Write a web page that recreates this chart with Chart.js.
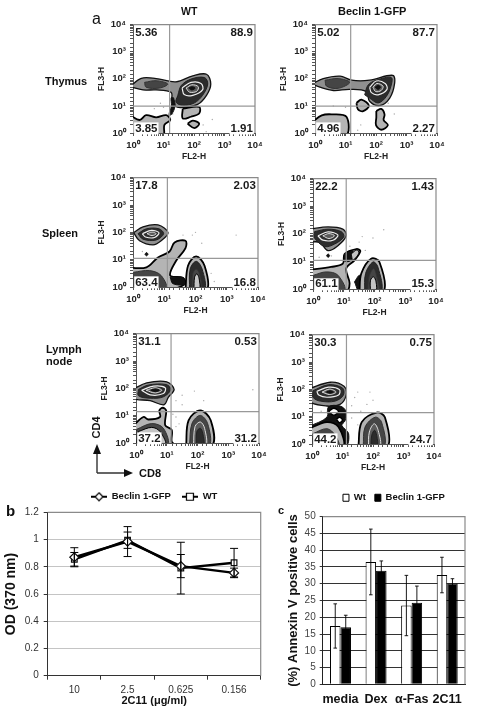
<!DOCTYPE html>
<html>
<head>
<meta charset="utf-8">
<title>Beclin 1-GFP</title>
<script src="https://cdn.jsdelivr.net/npm/chart.js@4/dist/chart.umd.js"></script>
<style>
  body { margin: 0; background: #fff; }
  #page { position: relative; width: 477px; height: 715px; overflow: hidden; font-family: "Liberation Sans", Arial, sans-serif; color: #111; filter: blur(0.45px); }
  #page canvas { position: absolute; }
  .txt { position: absolute; font-weight: bold; white-space: nowrap; line-height: 1; }
  svg { position: absolute; left: 0; top: 0; }
</style>
</head>
<body>
<div id="page">
  <div class="txt" style="left:92px;top:11px;font-size:16px;font-weight:normal">a</div>
  <div class="txt" style="left:6px;top:503px;font-size:15px">b</div>
  <div class="txt" style="left:278px;top:505px;font-size:11px">c</div>
  <div class="txt" style="left:181px;top:6px;font-size:10.5px">WT</div>
  <div class="txt" style="left:338px;top:6px;font-size:11px">Beclin 1-GFP</div>
  <div class="txt" style="left:45px;top:76px;font-size:11px">Thymus</div>
  <div class="txt" style="left:42px;top:228px;font-size:11px">Spleen</div>
  <div class="txt" style="left:46px;top:344px;font-size:11px">Lymph</div>
  <div class="txt" style="left:46px;top:356px;font-size:11px">node</div>
  <div class="txt" style="left:139px;top:468px;font-size:11px">CD8</div>
  <div class="txt" style="left:85px;top:422px;font-size:11px;transform:rotate(-90deg)">CD4</div>
  <svg width="477" height="715">
    <path d="M97 473V452M97 473H128" fill="none" stroke="#333" stroke-width="1.4"/>
    <path d="M97 444L93 454H101ZM133 473L124 469V477Z" fill="#111"/>
  </svg>
</div>
<script>
// all flow cytometry shapes are in decades (log10 of FL2-H, log10 of FL3-H)
const decadeLabels = {1: '10⁰', 10: '10¹', 100: '10²', 1000: '10³', 10000: '10⁴'}

const thymusWtPercents = ['5.36', '88.9', '3.85', '1.91']
const thymusWtGate = [1.2, 0.99]
const thymusWtDots = [[0.7,0.9],[1.0,0.95],[2.3,0.3],[2.6,0.5],[2.4,0.05],[1.3,0.7],[0.9,1.1]]
const thymusWtContours = [
  [[-0.1,1.71],[0.27,2.02],[0.76,2.01],[1.41,1.89],[1.96,2.11],[2.41,2.17],[2.55,1.81],[2.41,1.39],[2.12,1.06],[1.58,0.94],[1.38,1.0],[1.28,1.25],[1.25,1.5],[0.76,1.59],[0.33,1.59]],
  [[0.38,1.87],[0.76,1.93],[1.14,1.81],[0.87,1.66],[0.43,1.69]],
  [[1.47,1.39],[1.58,1.75],[1.9,1.99],[2.34,2.05],[2.45,1.81],[2.28,1.39],[2.01,1.11],[1.63,1.02],[1.41,1.14]],
  [[1.61,1.66],[1.9,1.87],[2.23,1.83],[2.28,1.59],[1.96,1.39],[1.68,1.42]],
  [[1.74,1.66],[1.93,1.78],[2.14,1.71],[2.09,1.54],[1.85,1.51]],
  [[1.83,1.66],[1.93,1.71],[2.04,1.66],[1.93,1.59]],
  [[1.33,1.3],[1.38,1.0],[1.26,0.68],[1.18,0.68],[1.26,1.0],[1.25,1.3]],
  [[-0.1,0.66],[0.22,0.48],[0.43,0.66],[0.76,0.58],[1.09,0.66],[1.22,0.48],[1.03,0.3],[0.98,-0.1],[-0.1,-0.1]],
  [[1.63,0.9],[2.17,0.96],[2.17,0.72],[1.9,0.6],[1.63,0.54]],
  [[1.79,0.34],[1.96,0.46],[2.17,0.34],[2.01,0.18]]
]
const thymusWtShades = ['outline','dark','darker','ring','soft','ink','ink','edge','edge','edge']

const thymusBeclinPercents = ['5.02', '87.7', '4.96', '2.27']
const thymusBeclinGate = [1.17, 0.99]
const thymusBeclinDots = [[0.6,1.0],[0.9,0.3],[1.5,0.3],[1.4,0.1],[2.6,0.7],[2.4,1.1],[1.0,0.95]]
const thymusBeclinContours = [
  [[-0.1,1.81],[0.27,2.01],[0.82,2.10],[1.2,1.95],[1.79,1.95],[2.55,2.13],[2.61,1.83],[2.45,1.29],[2.12,1.01],[1.79,1.17],[1.68,1.53],[1.14,1.61],[0.6,1.57],[0.16,1.69]],
  [[0.33,1.95],[0.76,2.01],[1.14,1.87],[0.76,1.65],[0.38,1.73]],
  [[1.63,1.41],[1.74,1.77],[2.01,1.95],[2.5,2.05],[2.5,1.77],[2.34,1.35],[2.07,1.11],[1.79,1.29]],
  [[1.79,1.69],[2.01,1.92],[2.3,1.83],[2.36,1.61],[2.07,1.41],[1.85,1.49]],
  [[1.9,1.69],[2.03,1.83],[2.23,1.73],[2.17,1.57],[1.99,1.53]],
  [[1.97,1.69],[2.07,1.76],[2.15,1.69],[2.07,1.61]],
  [[1.36,1.11],[1.52,1.23],[1.77,1.01],[1.58,0.81],[1.41,0.87]],
  [[2.01,0.81],[2.17,0.89],[2.28,0.69],[2.25,0.48],[2.39,0.29],[2.17,0.12],[2.0,0.29],[2.01,0.57]],
  [[-0.1,0.39],[0.22,0.65],[0.54,0.69],[1.03,0.6],[1.01,-0.1],[-0.1,-0.1]]
]
const thymusBeclinShades = ['outline','dark','darker','ring','soft','ink','edge','edge','edge']

const spleenWtPercents = ['17.8', '2.03', '63.4', '16.8']
const spleenWtGate = [1.1, 1.05]
const spleenWtDots = [[0.3,1.3],[1.4,1.6],[1.9,1.9],[2.0,2.0],[2.2,1.6],[1.6,1.9],[2.5,0.5],[2.6,0.2],[3.3,1.9]]
const spleenWtContours = [
  [[0.02,1.99],[0.32,2.2],[0.8,2.27],[1.12,1.99],[0.9,1.69],[0.64,1.54],[0.21,1.69]],
  [[0.16,1.95],[0.43,2.13],[0.83,2.13],[0.98,1.95],[0.74,1.72],[0.32,1.75]],
  [[0.3,1.95],[0.59,2.07],[0.83,1.99],[0.69,1.81],[0.4,1.83]],
  [[0.45,1.95],[0.61,2.01],[0.74,1.95],[0.61,1.88]],
  [[-0.1,0.7],[0.43,0.72],[0.8,1.08],[1.17,1.3],[1.33,1.63],[1.68,1.69],[1.68,1.42],[1.38,0.96],[1.19,0.42],[1.6,0.34],[1.65,0.1],[1.12,-0.1],[-0.1,-0.1]],
  [[0.02,0.54],[0.53,0.6],[0.9,0.42],[1.06,-0.1],[-0.1,-0.1]],
  [[1.19,0.36],[1.6,0.34],[1.68,0.1],[1.28,0.12]],
  [[1.68,-0.1],[1.76,0.78],[2.02,1.12],[2.29,0.78],[2.36,-0.1]],
  [[1.81,-0.1],[1.83,0.66],[2.02,0.94],[2.21,0.66],[2.29,-0.1]],
  [[1.89,-0.1],[1.91,0.48],[2.02,0.66],[2.13,0.48],[2.18,-0.1]],
  [[1.95,-0.1],[1.97,0.36],[2.04,0.48],[2.11,0.34],[2.13,-0.1]],
  [[0.38,1.2],[0.43,1.26],[0.48,1.2],[0.43,1.14]]
]
const spleenWtShades = ['outline','darker','ring','soft','edge','dark','ink','edge','darker','dark','pale','ink']

const spleenBeclinPercents = ['22.2', '1.43', '61.1', '15.3']
const spleenBeclinGate = [1.08, 1.04]
const spleenBeclinDots = [[0.2,1.15],[0.6,1.2],[1.5,1.7],[1.6,1.9],[1.95,1.85],[2.3,2.15],[1.7,1.4],[1.2,1.55]]
const spleenBeclinContours = [
  [[-0.1,2.17],[0.49,2.25],[0.97,2.17],[1.08,1.93],[0.81,1.57],[0.49,1.39],[0.22,1.69],[-0.1,1.75]],
  [[0.05,2.08],[0.49,2.17],[0.92,2.08],[1,1.89],[0.7,1.63],[0.38,1.54],[0.05,1.85]],
  [[0.16,1.93],[0.49,2.07],[0.81,1.96],[0.65,1.77],[0.32,1.77]],
  [[0.32,1.93],[0.52,2.01],[0.7,1.93],[0.52,1.83]],
  [[-0.1,0.7],[0.59,0.8],[0.97,0.92],[1.03,1.27],[1.41,1.45],[1.54,1.37],[1.35,1.04],[1.08,0.74],[1.19,0.2],[1.06,-0.1],[-0.1,-0.1]],
  [[1.03,1.27],[1.3,1.37],[1.24,1.04],[1.03,1.01]],
  [[1.24,1.27],[1.43,1.42],[1.49,1.3],[1.3,1.06]],
  [[0.02,0.5],[0.43,0.62],[0.81,0.5],[1.03,-0.1],[0.02,-0.1]],
  [[1.35,0.26],[1.51,0.5],[1.57,0.26],[1.49,-0.1]],
  [[1.51,-0.1],[1.57,0.56],[1.89,1.1],[2.16,0.98],[2.29,-0.1]],
  [[1.68,-0.1],[1.71,0.56],[1.95,0.98],[2.11,0.8],[2.22,-0.1]],
  [[1.78,-0.1],[1.82,0.44],[1.97,0.74],[2.08,0.44],[2.14,-0.1]],
  [[1.87,-0.1],[1.87,0.32],[1.97,0.44],[2.05,0.26],[2.05,-0.1]],
  [[0.44,1.21],[0.49,1.27],[0.54,1.21],[0.49,1.15]]
]
const spleenBeclinShades = ['outline','darker','ring','soft','edge','ink','pale','dark','ink','edge','darker','dark','pale','ink']

const lymphWtPercents = ['31.1', '0.53', '37.2', '31.2']
const lymphWtGate = [1.14, 1.15]
const lymphWtDots = [[1.3,1.55],[1.5,1.75],[1.9,1.9],[1.5,1.4],[1.3,0.95],[1.4,0.7],[2.2,1.55],[3.8,1.95],[1.2,1.05],[1.3,0.6]]
const lymphWtContours = [
  [[-0.1,1.96],[0.35,2.2],[1,2.24],[1.24,1.96],[1.05,1.67],[0.91,1.4],[0.46,1.55],[-0.1,1.64]],
  [[0.08,1.96],[0.4,2.12],[0.98,2.14],[1.13,1.96],[0.89,1.69],[0.46,1.64],[0.08,1.73]],
  [[0.18,1.93],[0.57,2.08],[0.95,2.02],[0.89,1.81],[0.46,1.76]],
  [[0.33,1.93],[0.62,2.02],[0.84,1.93],[0.62,1.83]],
  [[0.48,1.93],[0.63,1.98],[0.76,1.93],[0.63,1.88]],
  [[-0.1,0.62],[0.24,0.95],[0.4,0.86],[0.78,0.95],[0.76,1.19],[0.87,1.29],[0.98,1.19],[0.95,0.65],[1.16,0.48],[1.16,0.06],[1.27,-0.1],[-0.1,-0.1]],
  [[0.02,0.5],[0.51,0.71],[0.89,0.54],[1.02,-0.1],[0.02,-0.1]],
  [[0.08,0.42],[0.51,0.57],[0.78,0.42],[0.95,-0.1],[0.08,-0.1]],
  [[1.63,-0.1],[1.71,0.83],[2.09,1.19],[2.43,0.83],[2.47,-0.1]],
  [[1.74,-0.1],[1.82,0.71],[2.09,1.01],[2.33,0.71],[2.38,-0.1]],
  [[1.87,-0.1],[1.92,0.6],[2.09,0.77],[2.23,0.54],[2.27,-0.1]],
  [[1.96,-0.1],[1.98,0.42],[2.09,0.54],[2.17,0.36],[2.2,-0.1]]
]
const lymphWtShades = ['outline','darker','ring','soft','ink','edge','dark','pale','edge','dark','soft','darker']

const lymphBeclinPercents = ['30.3', '0.75', '44.2', '24.7']
const lymphBeclinGate = [1.13, 1.15]
const lymphBeclinDots = [[1.5,1.9],[1.4,1.7],[1.3,1.4],[1.9,1.9],[2.0,1.6],[1.8,1.45],[0.3,1.2],[0.5,1.2],[1.3,0.95],[1.6,1.2],[1.5,0.7]]
const lymphBeclinContours = [
  [[-0.1,2.02],[0.6,2.26],[1.05,2.11],[1.12,1.79],[0.92,1.45],[0.49,1.39],[-0.1,1.57]],
  [[0.03,1.95],[0.54,2.17],[1,2.05],[1.03,1.79],[0.76,1.57],[0.27,1.57],[0.03,1.71]],
  [[0.16,1.93],[0.54,2.08],[0.9,1.99],[0.87,1.79],[0.49,1.71],[0.22,1.79]],
  [[0.33,1.9],[0.58,2.01],[0.79,1.9],[0.58,1.81]],
  [[0.47,1.9],[0.59,1.95],[0.71,1.9],[0.59,1.86]],
  [[-0.1,0.64],[0.49,0.98],[0.54,1.36],[0.92,1.39],[1.12,1.19],[1.09,0.86],[0.98,0.68],[1.2,0.38],[1.09,-0.1],[-0.1,-0.1]],
  [[0.54,1.19],[0.71,1.31],[0.87,1.19],[0.71,1.05]],
  [[0.8,0.9],[0.9,0.98],[1.0,0.88],[0.9,0.78]],
  [[-0.1,0.56],[0.49,0.8],[0.87,0.62],[1.01,-0.1],[-0.1,-0.1]],
  [[0.03,0.38],[0.49,0.56],[0.76,0.32],[0.87,-0.1],[0.03,-0.1]],
  [[1.52,-0.1],[1.63,0.8],[2.12,1.15],[2.39,0.98],[2.47,-0.1]],
  [[1.68,-0.1],[1.74,0.62],[2.07,0.98],[2.28,0.8],[2.36,-0.1]],
  [[1.85,-0.1],[1.88,0.44],[2.04,0.74],[2.17,0.5],[2.23,-0.1]],
  [[1.93,-0.1],[1.96,0.32],[2.05,0.5],[2.12,0.32],[2.14,-0.1]]
]
const lymphBeclinShades = ['outline','darker','ring','soft','ink','ink','hole','hole','edge','dark','edge','dark','soft','darker']

// panel b
const doseLabels = ['10', '2.5', '0.625', '0.156']
const odBeclin = [0.87, 0.985, 0.805, 0.755]
const odBeclinError = [0.07, 0.11, 0.085, 0.035]
const odWt = [0.855, 0.995, 0.79, 0.83]
const odWtError = [0.05, 0.06, 0.19, 0.105]

// panel c
const treatmentLabels = ['media', 'Dex', 'α-Fas', '2C11']
const annexinWt = [17.4, 36.5, 23.5, 32.6]
const annexinWtError = [6.6, 9.8, 9, 5.3]
const annexinBeclin = [17, 33.9, 24.3, 30.1]
const annexinBeclinError = [3.6, 2.9, 5, 1.4]

const shades = {
  outline: {fill: '#8f8f8f', line: '#111', width: 1.3},
  edge:    {fill: '#b4b4b4', line: '#000', width: 1.8},
  pale:    {fill: '#c4c4c4', line: '#000', width: 1},
  soft:    {fill: '#5a5a5a', line: '#ddd', width: 1},
  dark:    {fill: '#454545', line: '#333', width: 1},
  darker:  {fill: '#2c2c2c', line: '#222', width: 1},
  ring:    {fill: '#2e2e2e', line: '#eee', width: 1.2},
  ink:     {fill: '#111', line: '#111', width: 1},
  hole:    {fill: '#fff', line: '#000', width: 1.5}
}

const toValue = p => ({x: 10 ** p[0], y: 10 ** p[1]})

// white backed percentages in the four quadrants
const percentLabels = {
  id: 'percentLabels',
  afterDatasetsDraw(chart, args, opts) {
    const {ctx, scales: {x, y}} = chart
    const places = [[0.07, 3.7, 'left'], [3.93, 3.7, 'right'], [0.07, 0.17, 'left'], [3.93, 0.17, 'right']]
    ctx.save()
    ctx.font = 'bold 11.5px "Liberation Sans"'
    ctx.textBaseline = 'middle'
    opts.values.forEach((text, i) => {
      const [px, py, align] = places[i]
      const left = x.getPixelForValue(10 ** px)
      const top = y.getPixelForValue(10 ** py)
      const w = ctx.measureText(text).width
      ctx.fillStyle = '#fff'
      ctx.fillRect(align == 'left' ? left - 1 : left - w - 1, top - 6, w + 2, 12)
      ctx.fillStyle = '#1a1a1a'
      ctx.textAlign = align
      ctx.fillText(text, left, top)
    })
    ctx.restore()
  }
}

const plotBox = {
  id: 'plotBox',
  afterDatasetsDraw(chart) {
    const {ctx, chartArea: a} = chart
    ctx.save()
    ctx.strokeStyle = '#8a8a8a'
    ctx.lineWidth = 1.2
    ctx.beginPath()
    ctx.moveTo(a.left, a.top)
    ctx.lineTo(a.right, a.top)
    ctx.lineTo(a.right, a.bottom)
    ctx.stroke()
    ctx.restore()
  }
}

const errorBars = {
  id: 'errorBars',
  afterDatasetsDraw(chart, args, opts) {
    const {ctx, scales: {y}} = chart
    ctx.save()
    ctx.strokeStyle = '#000'
    ctx.lineWidth = opts.width
    chart.data.datasets.forEach((ds, i) => {
      chart.getDatasetMeta(i).data.forEach((el, j) => {
        const hi = y.getPixelForValue(ds.data[j] + ds.errors[j])
        const lo = y.getPixelForValue(ds.data[j] - ds.errors[j])
        ctx.beginPath()
        ctx.moveTo(el.x, hi)
        ctx.lineTo(el.x, lo)
        ctx.moveTo(el.x - opts.cap, hi)
        ctx.lineTo(el.x + opts.cap, hi)
        ctx.moveTo(el.x - opts.cap, lo)
        ctx.lineTo(el.x + opts.cap, lo)
        ctx.stroke()
      })
    })
    ctx.restore()
  }
}

// keeps the plot top where it belongs whatever the legend wants
const legendHeight = {
  id: 'legendHeight',
  beforeLayout(chart, args, opts) {
    const legend = chart.legend
    const fit = Object.getPrototypeOf(legend).fit
    legend.fit = function () {
      fit.call(this)
      this.height = opts.height
    }
  }
}

function place(left, top, width, height) {
  const c = document.createElement('canvas')
  c.width = width
  c.height = height
  c.style.left = left + 'px'
  c.style.top = top + 'px'
  document.getElementById('page').appendChild(c)
  return c
}

function flowAxis(title, size, titlePad) {
  return {
    type: 'logarithmic',
    min: 1,
    max: 10000,
    afterFit: s => { if (s.isHorizontal()) s.height = size; else s.width = size },
    border: {color: '#555'},
    grid: {drawOnChartArea: false, tickLength: 3, tickColor: '#555'},
    ticks: {
      autoSkip: false, maxRotation: 0, padding: 4, color: '#222',
      font: {family: 'Liberation Sans', weight: 'bold', size: 9.5},
      callback: v => decadeLabels[v] || ''
    },
    title: {display: true, text: title, color: '#222', padding: titlePad, font: {family: 'Liberation Sans', weight: 'bold', size: 8.5}}
  }
}

function flowPlot(left, top, right, bottom, percents, gate, dots, contours, names) {
  const layers = contours.map((c, i) => {
    const s = shades[names[i]]
    return {
      data: c.concat([c[0]]).map(toValue),
      showLine: true, tension: 0.35, fill: 'shape', pointRadius: 0,
      backgroundColor: s.fill, borderColor: s.line, borderWidth: s.width,
      order: 100 - i
    }
  })
  const gateLine = pts => ({data: pts.map(toValue), showLine: true, pointRadius: 0, borderColor: '#999', borderWidth: 1.2, order: 0})
  layers.push(gateLine([[gate[0], 0], [gate[0], 4]]))
  layers.push(gateLine([[0, gate[1]], [4, gate[1]]]))
  layers.push({data: dots.map(toValue), pointRadius: 0.7, pointBackgroundColor: '#aaa', pointBorderWidth: 0, order: 200})
  const yWidth = 37, xHeight = 30, padTop = 8, padRight = 16
  new Chart(place(left - yWidth, top - padTop, right - left + yWidth + padRight, bottom - top + padTop + xHeight), {
    type: 'scatter',
    data: {datasets: layers},
    plugins: [plotBox, percentLabels],
    options: {
      responsive: false,
      animation: false,
      layout: {autoPadding: false, padding: {top: padTop, right: padRight, left: 0, bottom: 0}},
      plugins: {legend: {display: false}, tooltip: {enabled: false}, percentLabels: {values: percents}},
      scales: {
        x: flowAxis('FL2-H', xHeight, {top: 0, bottom: 1}),
        y: flowAxis('FL3-H', yWidth, {top: 1, bottom: 0})
      }
    }
  })
}

flowPlot(133.3, 23, 256, 133.5, thymusWtPercents, thymusWtGate, thymusWtDots, thymusWtContours, thymusWtShades)
flowPlot(315, 23.3, 437.3, 134, thymusBeclinPercents, thymusBeclinGate, thymusBeclinDots, thymusBeclinContours, thymusBeclinShades)
flowPlot(133.3, 175.7, 258.3, 286.7, spleenWtPercents, spleenWtGate, spleenWtDots, spleenWtContours, spleenWtShades)
flowPlot(313, 176.7, 436.7, 289, spleenBeclinPercents, spleenBeclinGate, spleenBeclinDots, spleenBeclinContours, spleenBeclinShades)
flowPlot(136, 331.7, 259, 443.3, lymphWtPercents, lymphWtGate, lymphWtDots, lymphWtContours, lymphWtShades)
flowPlot(311.7, 332.7, 434, 444, lymphBeclinPercents, lymphBeclinGate, lymphBeclinDots, lymphBeclinContours, lymphBeclinShades)

// small line + marker pictures for the legend of panel b
function legendMark(style) {
  const c = document.createElement('canvas')
  c.width = 16
  c.height = 10
  const g = c.getContext('2d')
  g.lineWidth = 2
  g.beginPath()
  g.moveTo(0, 5)
  g.lineTo(16, 5)
  g.stroke()
  g.fillStyle = '#fff'
  g.lineWidth = 1.2
  g.beginPath()
  if (style == 'rectRot') { g.moveTo(8, 1); g.lineTo(12, 5); g.lineTo(8, 9); g.lineTo(4, 5) }
  else g.rect(4.5, 1.5, 7, 7)
  g.closePath()
  g.fill()
  g.stroke()
  return c
}

const labelFont = {family: 'Liberation Sans'}

new Chart(place(0, 481, 270, 234), {
  type: 'line',
  data: {
    labels: doseLabels,
    datasets: [
      {label: 'Beclin 1-GFP', data: odBeclin, errors: odBeclinError, pointStyle: 'rectRot', pointRadius: 4.5},
      {label: 'WT', data: odWt, errors: odWtError, pointStyle: 'rect', pointRadius: 4}
    ].map(d => ({...d, borderColor: '#000', borderWidth: 2.4, tension: 0, pointBackgroundColor: '#fff', pointBorderColor: '#111', pointBorderWidth: 1.2}))
  },
  plugins: [plotBox, errorBars, legendHeight],
  options: {
    responsive: false,
    animation: false,
    layout: {autoPadding: false, padding: {top: 0, right: 9.3, left: 0, bottom: 0}},
    plugins: {
      tooltip: {enabled: false},
      errorBars: {width: 1, cap: 4},
      legendHeight: {height: 31.3},
      legend: {
        position: 'top',
        fullSize: false,
        labels: {
          usePointStyle: true, pointStyleWidth: 16, padding: 11, color: '#111',
          font: {family: 'Liberation Sans', weight: 'bold', size: 9.5},
          generateLabels: chart => chart.data.datasets.map((d, i) => ({text: d.label, datasetIndex: i, pointStyle: legendMark(d.pointStyle), lineWidth: 0, fontColor: '#111'}))
        }
      }
    },
    scales: {
      x: {
        type: 'category',
        offset: true,
        afterFit: s => { s.height = 39.3 },
        border: {color: '#333'},
        grid: {offset: true, drawOnChartArea: false, tickLength: 4, tickColor: '#333'},
        ticks: {color: '#333', maxRotation: 0, padding: 5, font: {...labelFont, size: 10}},
        title: {display: true, text: '2C11 (μg/ml)', color: '#111', padding: {top: 0, bottom: 7}, font: {...labelFont, weight: 'bold', size: 11}}
      },
      y: {
        min: 0,
        max: 1.2,
        afterFit: s => { s.width = 47.7 },
        border: {color: '#333'},
        grid: {color: ctx => ctx.tick.value == 0.8 ? '#bbb' : '#c4c4c4', lineWidth: ctx => ctx.tick.value == 0.8 ? 2 : 1, tickLength: 4, tickColor: '#333'},
        ticks: {stepSize: 0.2, color: '#333', padding: 5, font: {...labelFont, size: 10}, callback: v => String(+v.toFixed(1))},
        title: {display: true, text: 'OD (370 nm)', color: '#111', padding: {top: 3, bottom: 0}, font: {...labelFont, weight: 'bold', size: 14}}
      }
    }
  }
})

new Chart(place(272, 484, 205, 231), {
  type: 'bar',
  data: {
    labels: treatmentLabels,
    datasets: [
      {label: 'Wt', data: annexinWt, errors: annexinWtError, backgroundColor: '#fff'},
      {label: 'Beclin 1-GFP', data: annexinBeclin, errors: annexinBeclinError, backgroundColor: '#000'}
    ].map(d => ({...d, borderColor: '#000', borderWidth: 1, barPercentage: 1, categoryPercentage: 0.59}))
  },
  plugins: [plotBox, errorBars, legendHeight],
  options: {
    responsive: false,
    animation: false,
    layout: {autoPadding: false, padding: {top: 0, right: 12, left: 0, bottom: 0}},
    plugins: {
      tooltip: {enabled: false},
      errorBars: {width: 0.9, cap: 1.8},
      legendHeight: {height: 32.7},
      legend: {
        position: 'top',
        fullSize: false,
        labels: {boxWidth: 6, boxHeight: 7, padding: 9, color: '#111', font: {...labelFont, weight: 'bold', size: 9.5}}
      }
    },
    scales: {
      x: {
        afterFit: s => { s.height = 30.7 },
        border: {color: '#222'},
        grid: {display: false},
        ticks: {autoSkip: false, maxRotation: 0, color: '#111', padding: 0, font: {...labelFont, weight: 'bold', size: 12.5}}
      },
      y: {
        min: 0,
        max: 50,
        afterFit: s => { s.width = 50.7 },
        border: {color: '#222'},
        grid: {color: '#333', tickLength: 3, tickColor: '#333'},
        ticks: {stepSize: 5, color: '#444', padding: 4, font: {...labelFont, size: 10}},
        title: {display: true, text: '(%) Annexin V positive cells', color: '#111', padding: {top: 14, bottom: 0}, font: {...labelFont, weight: 'bold', size: 13}}
      }
    }
  }
})
</script>
</body>
</html>
